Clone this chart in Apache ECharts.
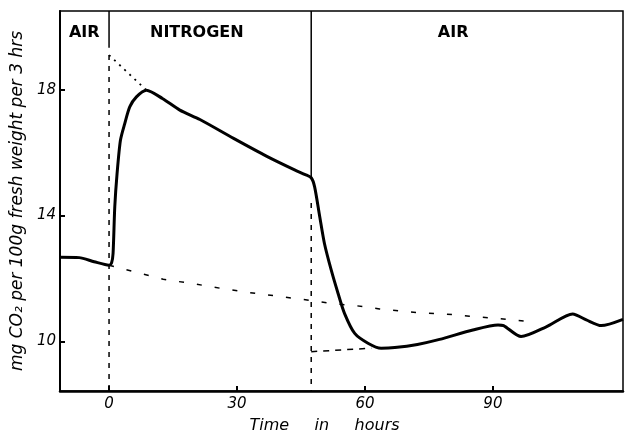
<!DOCTYPE html>
<html>
<head>
<meta charset="utf-8">
<title>CO2 output in air and nitrogen</title>
<script src="https://cdn.jsdelivr.net/npm/echarts@6/dist/echarts.min.js"></script>
<style>
    html, body { margin : 0; padding : 0; background : #fff; }
    #co2Container { width : 626px; height : 435px; }
</style>
</head>
<body>
<div id="co2Container"></div>
<script>
    'use strict';

    /**
     *  主曲线 (时间, 二氧化碳)
     */
    var curveTime = [-11.5, -7, -3.5, 0, 0.6, 0.94, 1.34, 1.88, 2.67, 3.68, 4.85, 6.42, 8.77, 12.5, 16.6, 21.3, 29.2, 37, 43.5, 46, 47.4, 48.2, 49.4, 50.5, 52.1, 53.7, 55.2, 57.6, 60.7, 63.8, 67, 72.3, 77.5, 85.3, 91.2, 92.5, 96.6, 102.5, 108.7, 111.9, 115.4, 120.5];
    var curveCO2  = [12.67, 12.66, 12.53, 12.42, 12.5, 12.79, 14.27, 15.33, 16.39, 16.92, 17.45, 17.77, 17.98, 17.72, 17.35, 17.05, 16.45, 15.88, 15.45, 15.3, 15.2, 14.91, 13.96, 13.11, 12.26, 11.52, 10.89, 10.25, 9.94, 9.78, 9.8, 9.9, 10.06, 10.36, 10.52, 10.5, 10.15, 10.46, 10.87, 10.68, 10.5, 10.7];

    /**
     *  外推线
     */
    var trendTime = [0, 12.7, 19.8, 26.8, 32.3, 44.9, 51.7, 58, 63.4, 72.3, 78.7, 84.5, 90.8, 97.7];
    var trendCO2  = [12.42, 11.97, 11.83, 11.67, 11.56, 11.34, 11.21, 11.13, 11.03, 10.91, 10.87, 10.8, 10.73, 10.64];
    var peakTime = [0, 8.77];
    var peakCO2  = [19.1, 17.98];
    var lowTime = [47.4, 61.5];
    var lowCO2  = [9.67, 9.78];

    /**
     *  气体切换
     */
    var switchTimes = [0, 47.4];
    var switchSolidBottom = [19.33, 15.2];
    var switchDottedTop = [19.1, 14.4];
    var gasNames = [ 'AIR', 'NITROGEN', 'AIR' ];
    var gasCenters = [-5.7, 20.7, 80.8];
    var gasLabelY = 19.78;

    /**
     *  坐标轴
     */
    var xMin = -11.5, xMax = 120.5;
    var yMin = 8.42, yMax = 20.5;
    var xTicks = [0, 30, 60, 90];
    var yTicks = [10, 14, 18];

    var zip = function (xs, ys) {
        var result = [];
        for (var i = 0; i < xs.length; i++) {
            result.push([xs[i], ys[i]]);
        }
        return result;
    };

    var italicFont = 'DejaVu Sans';

    var series = [
        {
            name : 'CO2',
            type : 'line',
            smooth : 0.25,
            showSymbol : false,
            lineStyle : { color : '#000', width : 3 },
            data : zip(curveTime, curveCO2),
            z : 5
        },
        {
            name : 'trend',
            type : 'line',
            showSymbol : false,
            lineStyle : { color : '#000', width : 1.5, type : [5, 13] },
            data : zip(trendTime, trendCO2)
        },
        {
            name : 'peak',
            type : 'line',
            showSymbol : false,
            lineStyle : { color : '#000', width : 1.8, type : [2, 5] },
            data : zip(peakTime, peakCO2)
        },
        {
            name : 'low',
            type : 'line',
            showSymbol : false,
            lineStyle : { color : '#000', width : 1.5, type : [6, 6] },
            data : zip(lowTime, lowCO2)
        },
        {
            name : 'gas',
            type : 'scatter',
            symbolSize : 1,
            itemStyle : { color : 'transparent', opacity : 1 },
            label : {
                show : true,
                position : [0, 0],
                align : 'center',
                verticalAlign : 'middle',
                formatter : function (p) { return p.data[2]; },
                color : '#000',
                textBorderWidth : 0,
                fontFamily : 'DejaVu Sans',
                fontWeight : 'bold',
                fontSize : 16
            },
            data : gasCenters.map(function (x, i) { return [x, gasLabelY, gasNames[i]]; })
        }
    ];

    // 切换时刻的竖线: 上面实线, 下面虚线
    for (var i = 0; i < switchTimes.length; i++) {
        series.push({
            type : 'line',
            showSymbol : false,
            lineStyle : { color : '#000', width : 1.5 },
            data : [[switchTimes[i], yMax], [switchTimes[i], switchSolidBottom[i]]]
        });
        series.push({
            type : 'line',
            showSymbol : false,
            lineStyle : { color : '#000', width : 1.5, type : [5, 6] },
            data : [[switchTimes[i], switchDottedTop[i]], [switchTimes[i], yMin]]
        });
    }

    var option = {
        animation : false,
        backgroundColor : '#fff',
        grid : {
            show : true,
            left : 60,
            right : 3,
            top : 11,
            bottom : 44,
            outerBoundsMode : 'none',
            containLabel : false,
            borderColor : '#000',
            borderWidth : 1.5
        },
        xAxis : {
            type : 'value',
            min : xMin,
            max : xMax,
            name : 'Time     in     hours',
            nameLocation : 'middle',
            nameGap : 27,
            nameTextStyle : {
                color : '#000',
                fontFamily : italicFont,
                fontStyle : 'italic',
                fontSize : 16,
                padding : [0, 34, 0, 0]
            },
            splitLine : { show : false },
            axisLine : { show : true, onZero : false, lineStyle : { color : '#000', width : 2.5 } },
            axisTick : { show : true, inside : true, length : 5, customValues : xTicks, lineStyle : { color : '#000', width : 2 } },
            axisLabel : {
                customValues : xTicks,
                color : '#000',
                fontFamily : italicFont,
                fontStyle : 'italic',
                fontSize : 15,
                margin : 6
            }
        },
        yAxis : {
            type : 'value',
            min : yMin,
            max : yMax,
            name : 'mg CO₂ per 100g fresh weight per 3 hrs',
            nameLocation : 'middle',
            nameGap : 30,
            nameTextStyle : {
                color : '#000',
                fontFamily : italicFont,
                fontStyle : 'italic',
                fontSize : 17
            },
            splitLine : { show : false },
            axisLine : { show : true, onZero : false, lineStyle : { color : '#000', width : 2 } },
            axisTick : { show : true, inside : true, length : 5, customValues : yTicks, lineStyle : { color : '#000', width : 2 } },
            axisLabel : {
                customValues : yTicks,
                color : '#000',
                fontFamily : italicFont,
                fontStyle : 'italic',
                fontSize : 15,
                margin : 4
            }
        },
        series : series
    };

    var chart = echarts.init(document.getElementById('co2Container'), null, { renderer : 'canvas' });
    chart.setOption(option);
</script>
</body>
</html>
